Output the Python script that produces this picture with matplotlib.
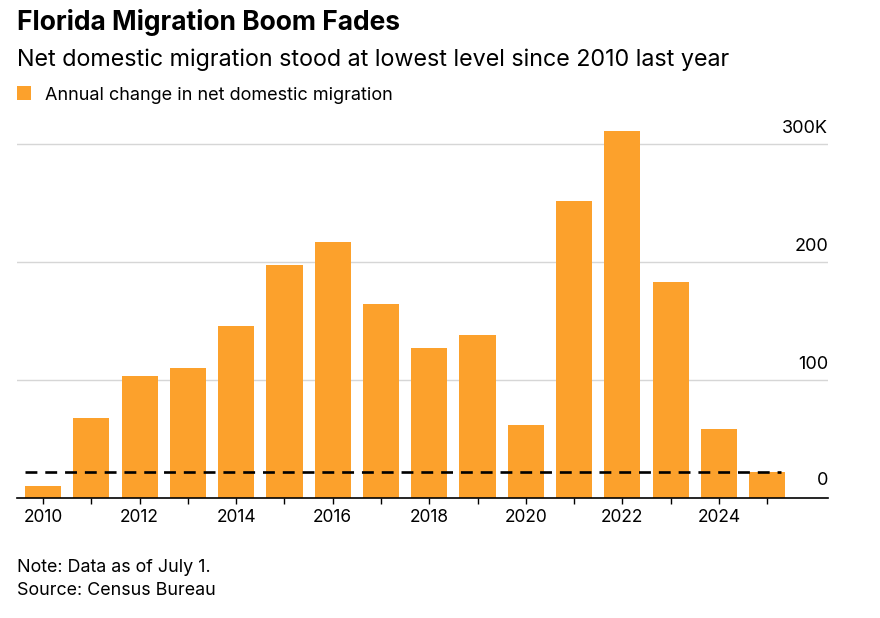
import matplotlib.pyplot as plt
from matplotlib.patches import Patch

plt.rcParams['font.family'] = ['Inter', 'DejaVu Sans']

# data (thousands of people)
years = list(range(2010, 2026))
net_change = [10, 68, 103, 110, 146, 197, 217, 164, 127, 138, 62, 252, 311, 183, 58, 22]
latest = net_change[-1]
yticks = [0, 100, 200, 300]
ylabels = ['0', '100', '200', '300K']

orange = '#FCA12C'

fig = plt.figure(figsize=(8.8, 6.18), dpi=100)
ax = fig.add_axes([17 / 880, 1 - 497.7 / 618, (828 - 17) / 880, 377.3 / 618])

ax.bar(years, net_change, width=0.75, color=orange, zorder=2)

# dashed line at latest level
ax.hlines(latest, years[0] - 0.38, years[-1] + 0.28, colors='black',
          linestyles=(0, (4.5, 3)), linewidth=1.9, zorder=3)

ax.set_xlim(years[0] - 0.54, years[-1] + 1.26)
ax.set_ylim(0, 320)

# gridlines + right labels
for v in yticks[1:]:
    ax.axhline(v, color='#d6d6d6', linewidth=1, zorder=1)
for v, lab in zip(yticks, ylabels):
    ax.annotate(lab, xy=(1, v), xycoords=('axes fraction', 'data'),
                xytext=(0, 5 if v else 6.5), textcoords='offset points',
                ha='right', va='bottom', fontsize=13)

ax.set_yticks([])
for s in ['top', 'right', 'left']:
    ax.spines[s].set_visible(False)
ax.spines['bottom'].set_linewidth(1.2)
ax.spines['bottom'].set_zorder(4)

ax.set_xticks(years)
ax.set_xticklabels([str(y) if y % 2 == 0 else '' for y in years])
ax.tick_params(axis='x', length=4, width=1, pad=4, labelsize=12.5)

fig.text(17 / 880, 1 - 30 / 618, 'Florida Migration Boom Fades', fontsize=19,
         fontweight='bold', va='baseline', ha='left')
fig.text(17 / 880, 1 - 66 / 618, 'Net domestic migration stood at lowest level since 2010 last year',
         fontsize=16.8, va='baseline', ha='left')

ax.legend(handles=[Patch(facecolor=orange, edgecolor='none')],
          labels=['Annual change in net domestic migration'],
          loc='center left', bbox_to_anchor=(17 / 880, 1 - 95 / 618),
          bbox_transform=fig.transFigure, frameon=False, fontsize=13,
          handlelength=0.8, handleheight=0.8, handletextpad=0.75,
          borderaxespad=0, borderpad=0)

fig.text(17 / 880, 1 - 572.5 / 618, 'Note: Data as of July 1.', fontsize=12.9, va='baseline')
fig.text(17 / 880, 1 - 595 / 618, 'Source: Census Bureau', fontsize=12.9, va='baseline')

fig.savefig('out.png', dpi=100)
